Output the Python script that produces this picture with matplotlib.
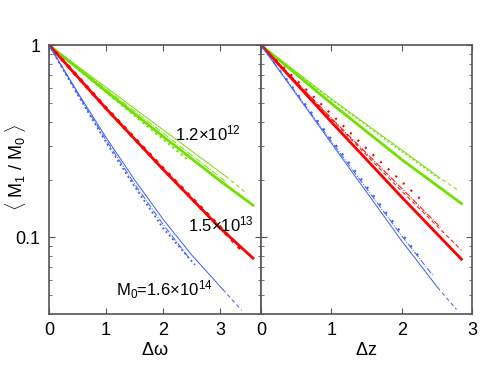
import matplotlib
matplotlib.use("Agg")
import matplotlib.pyplot as plt
from matplotlib.ticker import LogLocator, NullFormatter, FixedLocator

plt.rcParams['font.family'] = ['Liberation Sans', 'DejaVu Sans']
plt.rcParams['mathtext.fontset'] = 'custom'
plt.rcParams['mathtext.rm'] = 'Liberation Sans'
plt.rcParams['mathtext.it'] = 'Liberation Sans'

GREEN = '#70e000'
RED = '#ff0000'
BLUE = '#3a5cff'

#-------------------------------------------------------------------------------
# DATA  (<M1/M0>)
#-------------------------------------------------------------------------------

# left panel, x = delta omega
w_g_thick_x = [0, 1, 2, 3, 3.58]
w_g_thick_y = [1, 0.575, 0.335, 0.197, 0.147]
w_g_thin_x = [0, 1, 2, 3.1]
w_g_thin_y = [1, 0.603, 0.363, 0.208]
w_g_dash_x = [3.1, 3.45]
w_g_dash_y = [0.208, 0.171]
w_g_dd_x = [0, 1, 2, 3.1]
w_g_dd_y = [1, 0.59, 0.349, 0.195]
w_g_dot_x = [0, 1, 2, 2.45]
w_g_dot_y = [1, 0.569, 0.324, 0.251]

w_r_thick_x = [0, 1, 2, 3, 3.58]
w_r_thick_y = [1, 0.468, 0.226, 0.112, 0.078]
w_r_dot_x = [0, 1, 2, 3, 3.4]
w_r_dot_y = [1, 0.47, 0.228, 0.113, 0.085]

w_b_solid_x = [0, 0.5, 1, 1.5, 2, 2.5, 3.05]
w_b_solid_y = [1, 0.569, 0.331, 0.1995, 0.1245, 0.0813, 0.0537]
w_b_dash_x = [3.05, 3.38]
w_b_dash_y = [0.0537, 0.0418]
w_b_dd_x = [0, 0.5, 1, 1.5, 2, 2.45]
w_b_dd_y = [1, 0.56, 0.321, 0.19, 0.117, 0.0787]
w_b_dot_x = [0, 0.5, 1, 1.5, 2, 2.56]
w_b_dot_y = [1, 0.553, 0.313, 0.184, 0.112, 0.072]

# right panel, x = delta z
z_g_thick_x = [0, 1, 2, 2.85]
z_g_thick_y = [1, 0.497, 0.254, 0.15]
z_g_thin_x = [0, 1, 2, 2.5]
z_g_thin_y = [1, 0.525, 0.285, 0.209]
z_g_dash_x = [2.5, 2.8]
z_g_dash_y = [0.209, 0.176]
z_g_dot_x = [0, 1, 2, 2.55]
z_g_dot_y = [1, 0.52, 0.28, 0.2]

z_r_thick_x = [0, 1, 2, 2.85]
z_r_thick_y = [1, 0.398, 0.162, 0.077]
z_r_dash_x = [0, 1, 2, 2.85]
z_r_dash_y = [1, 0.412, 0.174, 0.0859]
z_r_dd_x = [0, 1, 2, 2.55]
z_r_dd_y = [1, 0.417, 0.18, 0.113]
z_r_dot_x = [0, 1, 1.55, 2.0, 2.3]
z_r_dot_y = [1, 0.437, 0.278, 0.195, 0.154]

z_b_solid_x = [0, 1, 2, 2.51]
z_b_solid_y = [1, 0.309, 0.096, 0.055]
z_b_dash_x = [2.51, 2.78]
z_b_dash_y = [0.055, 0.0422]
z_b_dd_x = [0, 1, 2, 2.45]
z_b_dd_y = [1, 0.316, 0.102, 0.063]
z_b_dot_x = [0, 1, 2, 2.28]
z_b_dot_y = [1, 0.324, 0.105, 0.0764]

mass_labels = ['1.2$\\times$10$^{12}$', '1.5$\\times$10$^{13}$',
               'M$_0$=1.6$\\times$10$^{14}$']
mass_label_x = [2.79, 3.02, 2.03]
mass_label_y = [0.348, 0.117, 0.0537]

#-------------------------------------------------------------------------------
# PLOT
#-------------------------------------------------------------------------------

THICK = 2.0
THIN = 0.7

fig = plt.figure(figsize=(4.91, 3.69), dpi=100)
ax1 = fig.add_axes([49/491, 55/369, 212/491, 269/369])
ax2 = fig.add_axes([261/491, 55/369, 211/491, 269/369])

# left
ax1.plot(w_g_thin_x, w_g_thin_y, '-', color=GREEN, lw=THIN)
ax1.plot(w_g_dash_x, w_g_dash_y, '--', color=GREEN, lw=THIN, dashes=(4, 3))
ax1.plot(w_g_dd_x, w_g_dd_y, '-.', color=GREEN, lw=THIN)
ax1.plot(w_g_dot_x, w_g_dot_y, ':', color=GREEN, lw=1.5)
ax1.plot(w_g_thick_x, w_g_thick_y, '-', color=GREEN, lw=THICK)

ax1.plot(w_r_dot_x, w_r_dot_y, ':', color=RED, lw=2.5)
ax1.plot(w_r_thick_x, w_r_thick_y, '-', color=RED, lw=THICK)

ax1.plot(w_b_solid_x, w_b_solid_y, '-', color=BLUE, lw=THIN)
ax1.plot(w_b_dash_x, w_b_dash_y, '--', color=BLUE, lw=THIN, dashes=(4, 3))
ax1.plot(w_b_dd_x, w_b_dd_y, '-.', color=BLUE, lw=THIN)
ax1.plot(w_b_dot_x, w_b_dot_y, ':', color=BLUE, lw=1.3)

for i in range(len(mass_labels)):
    ax1.text(mass_label_x[i], mass_label_y[i], mass_labels[i],
             ha='center', va='center', fontsize=12)

# right
ax2.plot(z_g_thin_x, z_g_thin_y, '-', color=GREEN, lw=THIN)
ax2.plot(z_g_dash_x, z_g_dash_y, '--', color=GREEN, lw=THIN, dashes=(4, 3))
ax2.plot(z_g_dot_x, z_g_dot_y, ':', color=GREEN, lw=1.2)
ax2.plot(z_g_thick_x, z_g_thick_y, '-', color=GREEN, lw=THICK)

ax2.plot(z_r_dash_x, z_r_dash_y, '--', color=RED, lw=THIN, dashes=(4, 3))
ax2.plot(z_r_dd_x, z_r_dd_y, '-.', color=RED, lw=THIN)
ax2.plot(z_r_dot_x, z_r_dot_y, ':', color=RED, lw=1.5, dashes=(1, 4))
ax2.plot(z_r_thick_x, z_r_thick_y, '-', color=RED, lw=THICK)

ax2.plot(z_b_solid_x, z_b_solid_y, '-', color=BLUE, lw=THIN)
ax2.plot(z_b_dash_x, z_b_dash_y, '--', color=BLUE, lw=THIN, dashes=(4, 3))
ax2.plot(z_b_dd_x, z_b_dd_y, '-.', color=BLUE, lw=THIN)
ax2.plot(z_b_dot_x, z_b_dot_y, ':', color=BLUE, lw=1.5, dashes=(1, 4))

for ax in (ax1, ax2):
    ax.set_yscale('log')
    ax.set_ylim(0.04, 1)
    ax.yaxis.set_major_locator(FixedLocator([0.1, 1]))
    ax.yaxis.set_minor_locator(LogLocator(base=10, subs=range(2, 10)))
    ax.yaxis.set_minor_formatter(NullFormatter())
    ax.tick_params(which='both', direction='in', top=True, right=True,
                   labelsize=13, color='#555555')
    ax.tick_params(which='major', length=4, pad=6)
    ax.tick_params(which='minor', length=2.5)
    for sp in ax.spines.values():
        sp.set_color('#555555')
        sp.set_linewidth(1.2)

ax1.set_xlim(0, 3.72)
ax1.set_xticks([0, 1, 2, 3])
ax1.set_yticklabels(['0.1', '1'])
ax1.set_xlabel('$\\Delta\\omega$', fontsize=13, labelpad=2)

# y label sits well left of the tick labels, as in the original
fig.text(16/491, 0.547, '$\\langle$ M$_1$ / M$_0$ $\\rangle$', fontsize=13,
         rotation=90, ha='center', va='center')

ax2.set_xlim(0, 3)
ax2.set_xticks([0, 1, 2, 3])
ax2.set_yticklabels([])
ax2.set_xlabel('$\\Delta$z', fontsize=13, labelpad=2)

fig.savefig('out.png', dpi=100)
